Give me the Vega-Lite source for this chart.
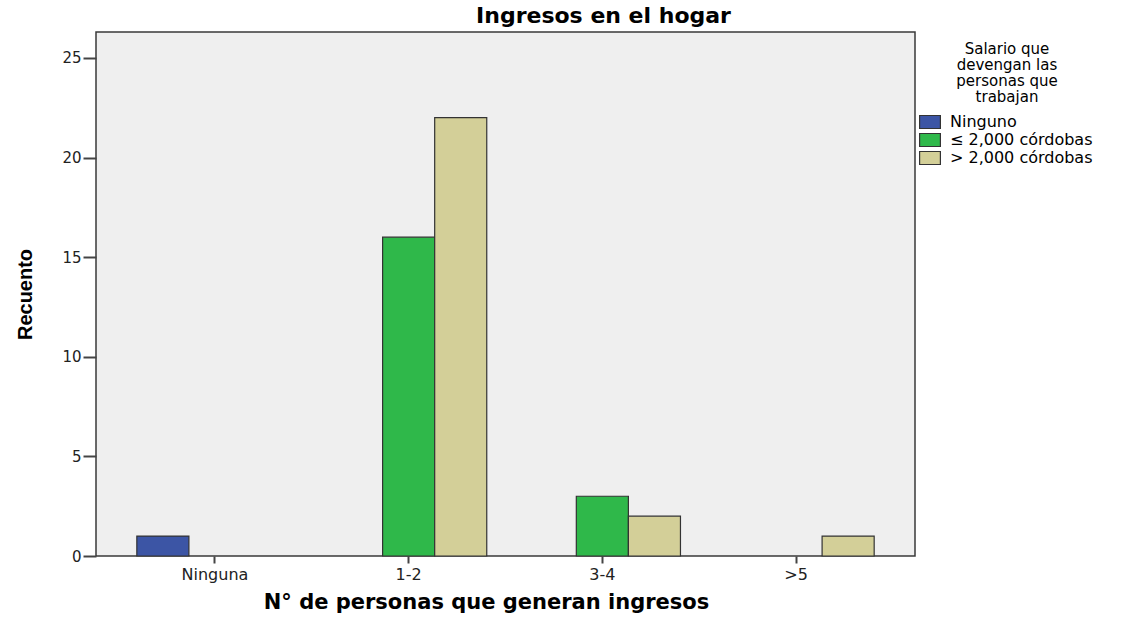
{
  "$schema": "https://vega.github.io/schema/vega-lite/v6.json",
  "width": 819,
  "height": 524,
  "autosize": {"type": "none"},
  "padding": {"left": 96, "top": 32, "right": 210, "bottom": 61},
  "background": "white",
  "title": {
    "text": "Ingresos en el hogar",
    "font": "DejaVu Sans",
    "fontSize": 22,
    "fontWeight": "bold",
    "color": "#000000",
    "anchor": "middle",
    "dx": 98,
    "offset": 4
  },
  "data": {
    "values": [
      {"personas": "Ninguna", "salario": "Ninguno", "recuento": 1},
      {"personas": "1-2", "salario": "≤ 2,000 córdobas", "recuento": 16},
      {"personas": "1-2", "salario": "> 2,000 córdobas", "recuento": 22},
      {"personas": "3-4", "salario": "≤ 2,000 córdobas", "recuento": 3},
      {"personas": "3-4", "salario": "> 2,000 córdobas", "recuento": 2},
      {"personas": ">5", "salario": "> 2,000 córdobas", "recuento": 1}
    ]
  },
  "mark": {"type": "bar", "stroke": "#333333", "strokeWidth": 1.2},
  "encoding": {
    "x": {
      "field": "personas",
      "type": "nominal",
      "sort": ["Ninguna", "1-2", "3-4", ">5"],
      "scale": {"paddingInner": 0, "paddingOuter": 0.114},
      "axis": {
        "title": "N° de personas que generan ingresos",
        "titleFont": "DejaVu Sans",
        "titleFontSize": 21,
        "titleFontWeight": "bold",
        "titleColor": "#000000",
        "titlePadding": 9,
        "titleX": 390,
        "titleAnchor": "middle",
        "titleAlign": "center",
        "labelFont": "DejaVu Sans",
        "labelFontSize": 16,
        "labelColor": "#222222",
        "labelAngle": 0,
        "labelPadding": 3,
        "tickSize": 7,
        "tickWidth": 2,
        "tickColor": "#444444",
        "domain": false
      }
    },
    "xOffset": {
      "field": "salario",
      "type": "nominal",
      "scale": {
        "domain": ["Ninguno", "≤ 2,000 córdobas", "> 2,000 córdobas"],
        "paddingInner": 0,
        "paddingOuter": 0.36
      }
    },
    "y": {
      "field": "recuento",
      "type": "quantitative",
      "scale": {"domain": [0, 26.3], "nice": false},
      "axis": {
        "title": "Recuento",
        "titleFont": "Liberation Sans",
        "titleFontSize": 20,
        "titleFontWeight": "bold",
        "titleColor": "#000000",
        "titlePadding": 26,
        "values": [0, 5, 10, 15, 20, 25],
        "labelFont": "DejaVu Sans",
        "labelFontSize": 15,
        "labelColor": "#222222",
        "labelPadding": 2,
        "tickSize": 13,
        "tickWidth": 2,
        "tickColor": "#444444",
        "grid": false,
        "domain": false
      }
    },
    "color": {
      "field": "salario",
      "type": "nominal",
      "scale": {
        "domain": ["Ninguno", "≤ 2,000 córdobas", "> 2,000 córdobas"],
        "range": ["#3c55a5", "#2fb84a", "#d3cf98"]
      },
      "legend": {
        "orient": "none",
        "legendX": 826,
        "legendY": 10,
        "padding": 0,
        "title": ["Salario que", "devengan las", "personas que", "trabajan"],
        "titleFont": "DejaVu Sans",
        "titleFontSize": 15,
        "titleFontWeight": "normal",
        "titleColor": "#000000",
        "titleLineHeight": 16,
        "titleAnchor": "middle",
        "titleAlign": "center",
        "titlePadding": 9,
        "labelFont": "DejaVu Sans",
        "labelFontSize": 16,
        "labelColor": "#000000",
        "labelOffset": 12,
        "labelLimit": 300,
        "symbolType": "M-1.6,-1H1.6V1H-1.6Z",
        "symbolSize": 169,
        "symbolStrokeColor": "#333333",
        "symbolStrokeWidth": 1.2,
        "symbolOpacity": 1,
        "rowPadding": 0
      }
    }
  },
  "config": {
    "view": {"fill": "#efefef", "stroke": "#3a3a3a", "strokeWidth": 1.5}
  }
}
